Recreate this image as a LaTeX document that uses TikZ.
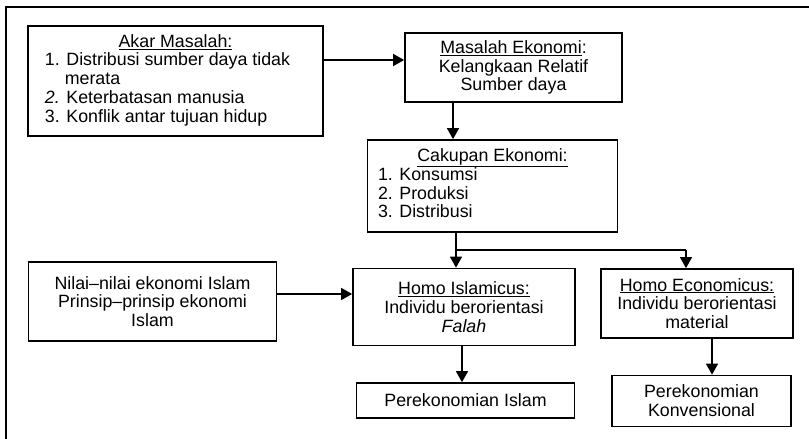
\documentclass[tikz,border=0pt]{standalone}
\usepackage{fontspec}
\setmainfont{Liberation Sans}
\usetikzlibrary{arrows.meta}

\begin{document}
\begin{tikzpicture}[x=1pt,y=-1pt,
	kotak/.style={draw, line width=1.7pt, inner sep=0pt, align=center,
		font=\fontsize{17.8}{18.8}\selectfont},
	panah/.style={line width=1.5pt, -{Triangle[length=11pt,width=12pt]}}]
		\useasboundingbox (0,0) rectangle (809,439);
		\draw[line width=2.2pt] (6,439) -- (6,7) -- (809,7);

		\node[kotak, minimum width=295, minimum height=110] (akar) at (175.5,81)
		{\begin{tabular}{@{}p{261pt}@{}}
			\multicolumn{1}{@{}c@{}}{\underline{Akar Masalah:}}\\
			1. Distribusi sumber daya tidak\\
			\phantom{1.~}merata\\
			\textit{2.} Keterbatasan manusia\\
			3. Konflik antar tujuan hidup
		\end{tabular}};
		\node[kotak, minimum width=217, minimum height=69] (masalah) at (513.5,67.5)
		{\underline{Masalah Ekonomi}:\\Kelangkaan Relatif\\Sumber daya};
		\node[kotak, minimum width=250, minimum height=92] (cakupan) at (492.5,186)
		{\begin{tabular}{@{}p{229pt}@{}}
			\multicolumn{1}{@{}c@{}}{\underline{Cakupan Ekonomi:}}\\
			1. Konsumsi\\
			2. Produksi\\
			3. Distribusi
		\end{tabular}};
		\node[kotak, minimum width=248, minimum height=79] (nilai) at (152.5,301.5)
		{Nilai--nilai ekonomi Islam\\Prinsip--prinsip ekonomi\\Islam};
		\node[kotak, minimum width=222, minimum height=77] (islamicus) at (464,307)
		{\underline{Homo Islamicus:}\\Individu berorientasi\\\textit{Falah}};
		\node[kotak, minimum width=192, minimum height=69] (economicus) at (697,303.5)
		{\underline{Homo Economicus:}\\Individu berorientasi\\material};
		\node[kotak, minimum width=218, minimum height=35] (pislam) at (465.5,400.5)
		{Perekonomian Islam};
		\node[kotak, minimum width=179, minimum height=51] (pkonv) at (701.5,401)
		{Perekonomian\\Konvensional};

		\coordinate (cabangkiri) at (456,250);
		\coordinate (cabangkanan) at (686,250);

		\draw[panah] ([yshift=21pt]akar.east) -- ([yshift=21pt]akar.east -| masalah.west);
		\draw[panah] ([xshift=-60.5pt]masalah.south) -- ([xshift=-60.5pt]masalah.south |- cakupan.north);
		\draw[line width=1.5pt] (cakupan.south -| cabangkiri) -- (cabangkiri) -- (cabangkanan);
		\draw[panah] (cabangkiri) -- (cabangkiri |- islamicus.north);
		\draw[panah] (cabangkanan) -- (cabangkanan |- economicus.north);
		\draw[panah] ([yshift=7.5pt]nilai.east) -- ([yshift=7.5pt]nilai.east -| islamicus.west);
		\draw[panah] ([xshift=-2pt]islamicus.south) -- ([xshift=-2pt]islamicus.south |- pislam.north);
		\draw[panah] ([xshift=15pt]economicus.south) -- ([xshift=15pt]economicus.south |- pkonv.north);
	\end{tikzpicture}
\end{document}
